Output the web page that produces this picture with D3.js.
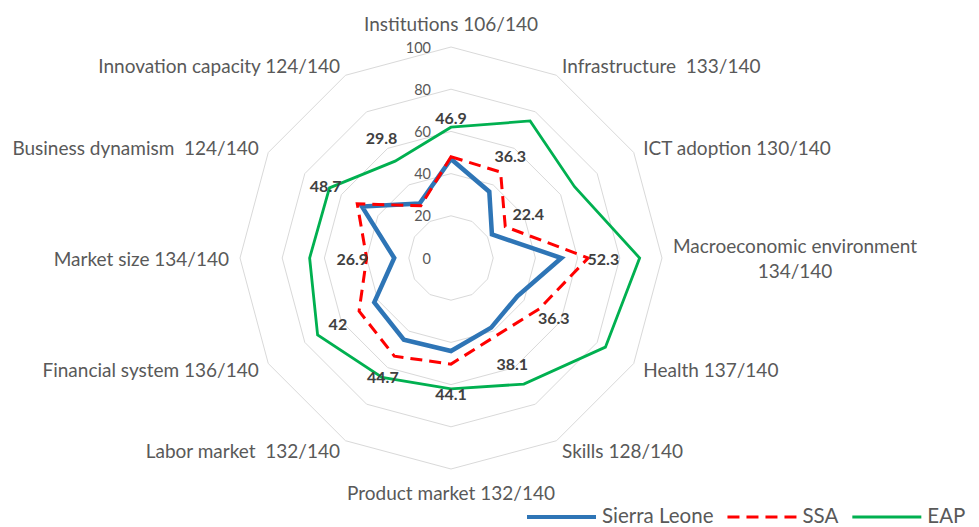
<!DOCTYPE html>
<html>
<head>
<meta charset="utf-8">
<script src="https://cdn.jsdelivr.net/npm/d3@7"></script>
<style>
  html, body { margin: 0; padding: 0; background: #ffffff; }
  svg { display: block; font-family: Lato, "Open Sans", sans-serif; }
</style>
</head>
<body>
<svg id="chart" width="979" height="527"></svg>
<script>
// ---- data ----
const categories = [
  "Institutions 106/140",
  "Infrastructure  133/140",
  "ICT adoption 130/140",
  "Macroeconomic environment\n134/140",
  "Health 137/140",
  "Skills 128/140",
  "Product market 132/140",
  "Labor market  132/140",
  "Financial system 136/140",
  "Market size 134/140",
  "Business dynamism  124/140",
  "Innovation capacity 124/140"
];
const sierraLeone = [46.9, 36.3, 22.4, 52.3, 36.3, 38.1, 44.1, 44.7, 42, 26.9, 48.7, 29.8];
const ssa         = [48.0, 47.0, 29.7, 65.0, 48.3, 42.6, 50.3, 53.7, 50.3, 40.0, 51.3, 28.6];
const eap         = [62.0, 75.0, 67.6, 89.4, 84.5, 69.0, 62.0, 65.3, 73.0, 67.0, 66.5, 53.0];
const seriesNames = ["Sierra Leone", "SSA", "EAP"];
const tickValues  = [0, 20, 40, 60, 80, 100];

// ---- layout ----
const svg = d3.select("#chart");
const cx = 451, cy = 258, R = 211;
const rScale = d3.scaleLinear().domain([0, 100]).range([0, R]);
const aScale = d3.scaleLinear().domain([0, categories.length]).range([0, 2 * Math.PI]);

const g = svg.append("g").attr("transform", `translate(${cx},${cy})`);

// grid polygons
const gridLine = d3.lineRadial()
  .angle((d, i) => aScale(i))
  .radius(d => rScale(d))
  .curve(d3.curveLinearClosed);

g.append("g").selectAll("path")
  .data(tickValues.filter(t => t > 0))
  .join("path")
  .attr("d", t => gridLine(categories.map(() => t)))
  .attr("fill", "none")
  .attr("stroke", "#d9d9d9")
  .attr("stroke-width", 1);

// tick labels
g.append("g").selectAll("text")
  .data(tickValues)
  .join("text")
  .attr("x", -20)
  .attr("y", t => -rScale(t))
  .attr("text-anchor", "end")
  .attr("dominant-baseline", "central")
  .attr("fill", "#595959")
  .attr("font-size", 14.5)
  .text(t => t);

// series
const seriesData = [
  { name: seriesNames[0], values: sierraLeone, color: "#2e75b6", width: 4.5, dash: null },
  { name: seriesNames[1], values: ssa,         color: "#ff0000", width: 3,   dash: "12,7" },
  { name: seriesNames[2], values: eap,         color: "#00b050", width: 2.8, dash: null }
];

const seriesLine = d3.lineRadial()
  .angle((d, i) => aScale(i))
  .radius(d => rScale(d))
  .curve(d3.curveLinearClosed);

g.append("g").selectAll("path")
  .data(seriesData)
  .join("path")
  .attr("d", s => seriesLine(s.values))
  .attr("fill", "none")
  .attr("stroke", s => s.color)
  .attr("stroke-width", s => s.width)
  .attr("stroke-dasharray", s => s.dash)
  .attr("stroke-linejoin", "miter");

// data labels (Sierra Leone values)
const labelGap = 42;
const labelExtra = { 11: 34 };
g.append("g").selectAll("text")
  .data(sierraLeone)
  .join("text")
  .attr("x", (d, i) => (rScale(d) + labelGap + (labelExtra[i] || 0)) * Math.sin(aScale(i)))
  .attr("y", (d, i) => -(rScale(d) + labelGap + (labelExtra[i] || 0)) * Math.cos(aScale(i)))
  .attr("text-anchor", "middle")
  .attr("dominant-baseline", "central")
  .attr("font-weight", "bold")
  .attr("font-size", 16)
  .attr("fill", "#404040")
  .text(d => d);

// category labels
const catR = R + 11;
const lineH = 25;
const catG = g.append("g");
categories.forEach((c, i) => {
  const a = aScale(i);
  const s = Math.sin(a), co = Math.cos(a);
  const px = catR * s, py = -catR * co;
  const lines = c.split("\n");
  const t = catG.append("text")
    .attr("fill", "#595959")
    .attr("font-size", 19)
    .style("white-space", "pre");
  const spans = lines.map((ln, k) => t.append("tspan").text(ln));
  const widths = spans.map(sp => sp.node().getComputedTextLength());
  const blockW = Math.max(...widths);
  const blockH = lines.length * lineH;
  let left;
  if (s > 0.1) left = px;
  else if (s < -0.1) left = px - blockW;
  else left = px - blockW / 2;
  let centerY = py;
  if (Math.abs(co) > 0.99) centerY = py - co * (blockH / 2);
  const top = centerY - blockH / 2;
  spans.forEach((sp, k) => {
    sp.attr("x", left + blockW / 2)
      .attr("y", top + lineH * k + lineH / 2)
      .attr("text-anchor", "middle")
      .attr("dominant-baseline", "central");
  });
});

// legend
const legend = svg.append("g");
let lx = 527;
const ly = 517;
seriesData.forEach(s => {
  legend.append("line")
    .attr("x1", lx).attr("x2", lx + 69)
    .attr("y1", ly).attr("y2", ly)
    .attr("stroke", s.color)
    .attr("stroke-width", s.name === "Sierra Leone" ? 4 : 3)
    .attr("stroke-dasharray", s.dash);
  const t = legend.append("text")
    .attr("x", lx + 75)
    .attr("y", ly - 2)
    .attr("dominant-baseline", "central")
    .attr("font-size", 20.5)
    .attr("fill", "#595959")
    .text(s.name);
  lx = lx + 75 + t.node().getComputedTextLength() + 14;
});
</script>
</body>
</html>
